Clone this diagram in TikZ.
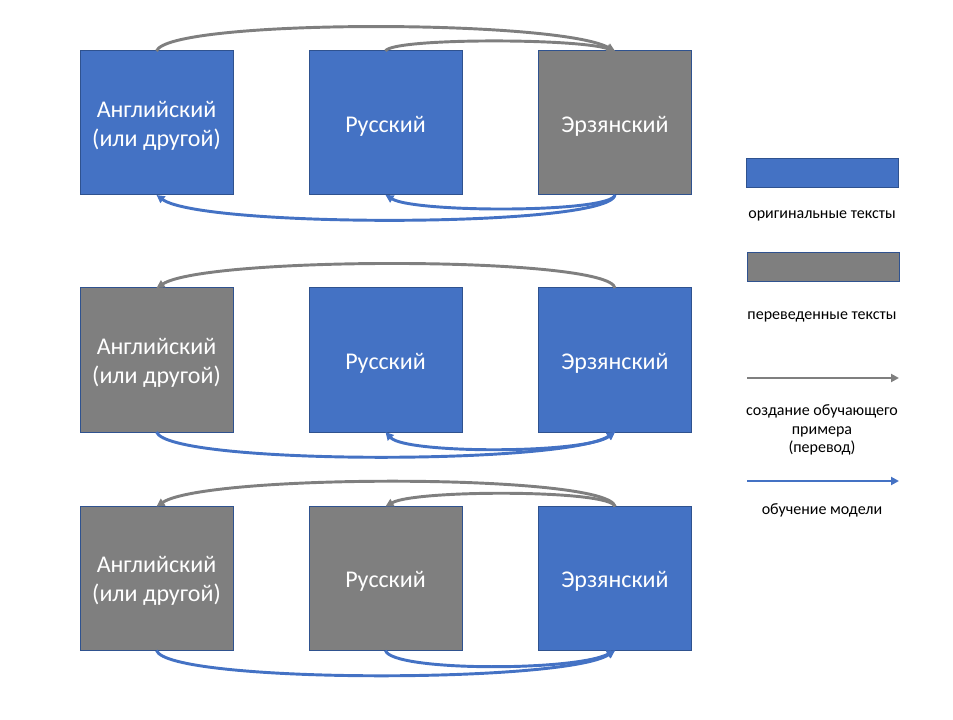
\documentclass[tikz,border=0pt]{standalone}
\usepackage{fontspec}
\setmainfont{Carlito}
\usetikzlibrary{arrows.meta}
\definecolor{pblue}{HTML}{4472C4}
\definecolor{pgray}{HTML}{7F7F7F}
\definecolor{pedge}{HTML}{2F528F}
\newcommand\engtext{\rule{0pt}{16pt}Английский\\(или другой)}
\tikzset{
  langbox/.style={draw=pedge, line width=0.75pt, inner sep=0pt, outer sep=0pt,
    minimum width=114.75pt, minimum height=108pt, align=center, text=white,
    font=\fontsize{18}{22}\selectfont},
  oneline/.style={execute at begin node={\rule{0pt}{17pt}}},
  orig/.style={langbox, fill=pblue},
  trans/.style={langbox, fill=pgray},
  legbox/.style={draw=pedge, line width=0.75pt, inner sep=0pt, outer sep=0pt,
    minimum width=114pt, minimum height=21.75pt},
  legtext/.style={align=center, font=\fontsize{12}{14}\selectfont, inner sep=0pt},
  garrow/.style={draw=pgray, line width=2.2pt, -{Triangle[length=6pt,width=6pt]}},
  barrow/.style={draw=pblue, line width=2.2pt, -{Triangle[length=6pt,width=6pt]}},
  bdarrow/.style={draw=pblue, line width=2.2pt, {Triangle[length=6pt,width=6pt]}-{Triangle[length=6pt,width=6pt]}},
}
\begin{document}
\begin{tikzpicture}[x=0.75pt,y=-0.75pt]
\useasboundingbox (0,0) rectangle (953,720);
% row 1
\node[orig]  (e1) at (156.5,123) {\engtext};
\node[orig,oneline]  (r1) at (385.5,123) {Русский};
\node[trans,oneline] (z1) at (615,123)   {Эрзянский};
% row 2
\node[trans] (e2) at (156.5,360) {\engtext};
\node[orig,oneline]  (r2) at (385.5,360) {Русский};
\node[orig,oneline]  (z2) at (615,360)   {Эрзянский};
% row 3
\node[trans] (e3) at (156.5,578.5) {\engtext};
\node[trans,oneline] (r3) at (385.5,578.5) {Русский};
\node[orig,oneline]  (z3) at (615,578.5)   {Эрзянский};

% row 1 connectors
\draw[garrow] (e1.north) .. controls +(12,-32) and +(-60,-32) .. (z1.north);
\draw[garrow] (r1.north) .. controls +(6,-13) and +(-40,-13) .. (z1.north);
\draw[barrow] (z1.south) .. controls +(-6,33) and +(45,33) .. (e1.south);
\draw[barrow] (z1.south) .. controls +(-4,18) and +(30,18) .. (r1.south);
% row 2 connectors
\draw[garrow] (z2.north) .. controls +(-6,-32) and +(50,-32) .. (e2.north);
\draw[barrow] (e2.south) .. controls +(12,33) and +(-50,33) .. (z2.south);
\draw[bdarrow] (r2.south) .. controls +(20,22) and +(-30,22) .. (z2.south);
% row 3 connectors
\draw[garrow] (z3.north) .. controls +(-6,-33) and +(50,-33) .. (e3.north);
\draw[garrow] (z3.north) .. controls +(-4,-17) and +(30,-17) .. (r3.north);
\draw[barrow] (e3.south) .. controls +(12,33) and +(-50,33) .. (z3.south);
\draw[barrow] (r3.south) .. controls +(6,21) and +(-40,21) .. (z3.south);

% legend
\node[legbox, fill=pblue] (lb) at (822,173.5) {};
\node[legtext] (lbt) at (822,216) {оригинальные тексты};
\node[legbox, fill=pgray] (lg) at (823,267.5) {};
\node[legtext] (lgt) at (822,317) {переведенные тексты};
\coordinate (ga1) at (747,378);
\coordinate (ga2) at (899,378);
\draw[garrow] (ga1) -- (ga2);
\node[legtext] (gat) at (822,430) {создание обучающего\\примера\\(перевод)};
\coordinate (ba1) at (747,481);
\coordinate (ba2) at (899,481);
\draw[barrow] (ba1) -- (ba2);
\node[legtext] (bat) at (822,510) {обучение модели};
\end{tikzpicture}
\end{document}
